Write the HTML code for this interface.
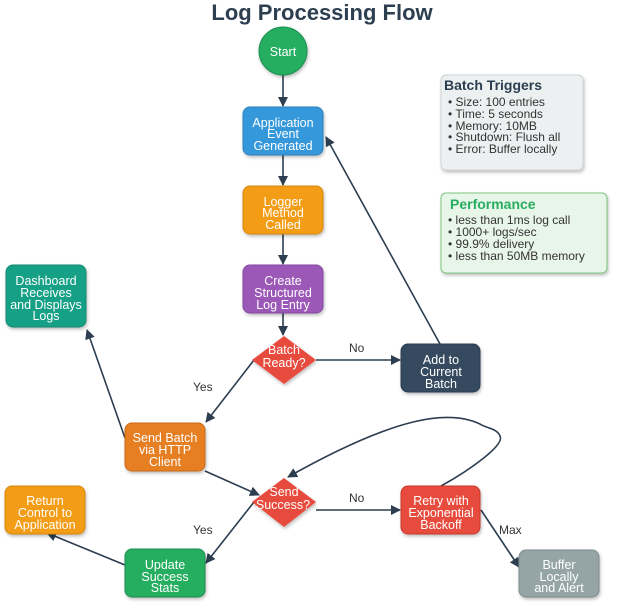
<!DOCTYPE html>
<html><head><meta charset="utf-8"><style>
html,body{margin:0;padding:0;background:#fff;}
svg{display:block;font-family:"Liberation Sans",Arial,sans-serif;}
.n{fill:#fff;font-size:12.5px;text-anchor:middle;}
.l{fill:#333;font-size:12px;}
.e{stroke:#2c3e50;stroke-width:1.6;fill:none;marker-end:url(#a);}
</style></head><body>
<svg width="621" height="609" viewBox="0 0 621 609">
<defs>
<marker id="a" markerWidth="10" markerHeight="10" refX="9" refY="5" orient="auto" markerUnits="userSpaceOnUse"><path d="M0,0 L10,5 L0,10 z" fill="#2c3e50"/></marker>
<filter id="s" x="-20%" y="-20%" width="140%" height="140%"><feDropShadow dx="1" dy="2" stdDeviation="1.5" flood-opacity="0.25"/></filter>
</defs>
<text x="322" y="20" text-anchor="middle" font-size="22" font-weight="bold" fill="#2c3e50">Log Processing Flow</text>

<!-- edges -->
<line class="e" x1="283" y1="75" x2="283" y2="106"/>
<line class="e" x1="283" y1="155" x2="283" y2="185"/>
<line class="e" x1="283" y1="234" x2="283" y2="264"/>
<line class="e" x1="283" y1="313" x2="283" y2="335"/>
<line class="e" x1="316" y1="360" x2="400" y2="360"/>
<line class="e" x1="440" y1="344" x2="326" y2="137"/>
<line class="e" x1="254" y1="360" x2="206" y2="422"/>
<line class="e" x1="125" y1="438" x2="87" y2="330"/>
<line class="e" x1="205" y1="471" x2="259" y2="495"/>
<line class="e" x1="316" y1="510" x2="400" y2="510"/>
<path class="e" d="M441,486 C470,470 505,445 500,436 C497,428 485,428 480,424 C450,410 400,414 288,477"/>
<line class="e" x1="254" y1="502" x2="206" y2="563"/>
<line class="e" x1="125" y1="565" x2="47" y2="533"/>
<line class="e" x1="481" y1="510" x2="519" y2="567"/>
<text class="l" x="349" y="352">No</text>
<text class="l" x="349" y="502">No</text>
<text class="l" x="193" y="391">Yes</text>
<text class="l" x="193" y="534">Yes</text>
<text class="l" x="499" y="534">Max</text>

<!-- nodes -->
<g filter="url(#s)">
<circle cx="283" cy="51" r="24" fill="#27ae60" stroke="#1e8e4e" stroke-width="1"/>
<rect x="243" y="107" width="80" height="48" rx="7" fill="#3498db" stroke="#2a80ba"/>
<rect x="243" y="186" width="80" height="48" rx="7" fill="#f39c12" stroke="#d68910"/>
<rect x="243" y="265" width="80" height="48" rx="7" fill="#9b59b6" stroke="#8446a0"/>
<rect x="6" y="265" width="80" height="62" rx="7" fill="#16a085" stroke="#128a72"/>
<polygon points="284,336 316,360 284,384 252,360" fill="#e74c3c"/>
<rect x="401" y="344" width="79" height="48" rx="7" fill="#34495e" stroke="#2c3e50"/>
<rect x="125" y="423" width="80" height="48" rx="7" fill="#e67e22" stroke="#ca6a16"/>
<polygon points="284,478 316,502 284,527 252,502" fill="#e74c3c"/>
<rect x="401" y="486" width="79" height="48" rx="7" fill="#e74c3c" stroke="#c9392b"/>
<rect x="5" y="486" width="80" height="48" rx="7" fill="#f39c12" stroke="#d68910"/>
<rect x="125" y="549" width="80" height="48" rx="7" fill="#27ae60" stroke="#1e8e4e"/>
<rect x="519" y="550" width="80" height="47" rx="7" fill="#95a5a6" stroke="#7f8c8d"/>
<rect x="441" y="75" width="142" height="95" rx="5" fill="#ecf0f1" stroke="#cfd4d6"/>
<rect x="441" y="193" width="166" height="80" rx="5" fill="#e8f5e9" stroke="#7bc67f"/>
</g>

<text class="n" x="283" y="56" font-size="14">Start</text>
<text class="n"><tspan x="283" y="127">Application</tspan><tspan x="283" y="138">Event</tspan><tspan x="283" y="150">Generated</tspan></text>
<text class="n"><tspan x="283" y="206">Logger</tspan><tspan x="283" y="217">Method</tspan><tspan x="283" y="229">Called</tspan></text>
<text class="n"><tspan x="283" y="285">Create</tspan><tspan x="283" y="297">Structured</tspan><tspan x="283" y="309">Log Entry</tspan></text>
<text class="n"><tspan x="46" y="285">Dashboard</tspan><tspan x="46" y="297">Receives</tspan><tspan x="46" y="309">and Displays</tspan><tspan x="46" y="320">Logs</tspan></text>
<text class="n"><tspan x="284" y="354">Batch</tspan><tspan x="284" y="367">Ready?</tspan></text>
<text class="n"><tspan x="441" y="364">Add to</tspan><tspan x="441" y="376">Current</tspan><tspan x="441" y="388">Batch</tspan></text>
<text class="n"><tspan x="165" y="442">Send Batch</tspan><tspan x="165" y="454">via HTTP</tspan><tspan x="165" y="466">Client</tspan></text>
<text class="n"><tspan x="284" y="496">Send</tspan><tspan x="283" y="509">Success?</tspan></text>
<text class="n"><tspan x="441" y="505">Retry with</tspan><tspan x="441" y="517">Exponential</tspan><tspan x="441" y="529">Backoff</tspan></text>
<text class="n"><tspan x="45" y="505">Return</tspan><tspan x="45" y="517">Control to</tspan><tspan x="45" y="529">Application</tspan></text>
<text class="n"><tspan x="165" y="569">Update</tspan><tspan x="165" y="581">Success</tspan><tspan x="165" y="592">Stats</tspan></text>
<text class="n"><tspan x="559" y="569">Buffer</tspan><tspan x="559" y="581">Locally</tspan><tspan x="559" y="592">and Alert</tspan></text>

<text x="444" y="90" font-size="14" font-weight="bold" fill="#2c3e50">Batch Triggers</text>
<text font-size="12" fill="#333"><tspan x="448" y="106">• Size: 100 entries</tspan><tspan x="448" y="118">• Time: 5 seconds</tspan><tspan x="448" y="130">• Memory: 10MB</tspan><tspan x="448" y="141">• Shutdown: Flush all</tspan><tspan x="448" y="153">• Error: Buffer locally</tspan></text>
<text x="450" y="209" font-size="14" font-weight="bold" fill="#27ae60">Performance</text>
<text font-size="12" fill="#333"><tspan x="448" y="224">• less than 1ms log call</tspan><tspan x="448" y="236">• 1000+ logs/sec</tspan><tspan x="448" y="248">• 99.9% delivery</tspan><tspan x="448" y="260">• less than 50MB memory</tspan></text>
</svg>
</body></html>
